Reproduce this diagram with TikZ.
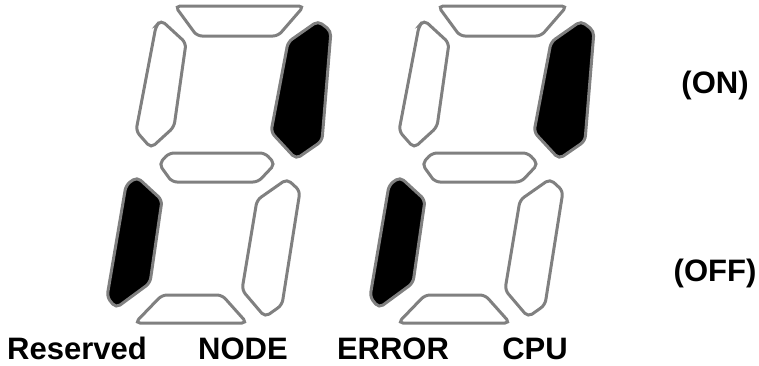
\documentclass[tikz,border=0pt]{standalone}
\usepackage{fontspec}
\setmainfont{Liberation Sans}
\usetikzlibrary{positioning}
\definecolor{SegGray}{RGB}{128,128,128}

\begin{document}
\begin{tikzpicture}[x=1pt, y=-1pt,
  seg/.style={draw=SegGray, line width=3pt, rounded corners=5pt, fill=white},
  segon/.style={seg, fill=black},
  every node/.style={font=\fontsize{31}{33}\selectfont\bfseries, inner sep=0pt, anchor=base}]
  \useasboundingbox (0,0) rectangle (759,365);
  % two digits, same segments lit
  \foreach \dx in {0,263} {
    \begin{scope}[xshift=\dx pt]
      \draw[seg]   (175,6) -- (304,6) -- (278,36) -- (197,36) -- cycle;                        % a
      \draw[segon] (318,21) -- (331,31) -- (322,141) -- (296,159) -- (271,132) -- (288,42) -- cycle; % b
      \draw[seg]   (287,179) -- (300,191) -- (282,305) -- (265,317) -- (242,290) -- (257,200) -- cycle; % c
      \draw[seg]   (162,295) -- (222,295) -- (247,323) -- (135,323) -- cycle;                   % d
      \draw[segon] (137,177) -- (162,200) -- (150,283) -- (116,308) -- (107,297) -- (126,185) -- cycle; % e
      \draw[seg]   (161,20) -- (186,43) -- (174,127) -- (151,148) -- (136,131) -- (156,26) -- cycle;  % f
      \draw[seg]   (159,164) -- (169,153) -- (265,153) -- (275,164) -- (258,182) -- (172,182) -- cycle; % g
    \end{scope}
  }
  \node (reserved) at (77,359)  {Reserved};
  \node (node)     at (243,359) {NODE};
  \node (error)    at (393,359) {ERROR};
  \node (cpu)      at (535,359) {CPU};
  \node (on)       at (715,93)  {(ON)};
  \node (off)      at (715,281) {(OFF)};
\end{tikzpicture}
\end{document}
